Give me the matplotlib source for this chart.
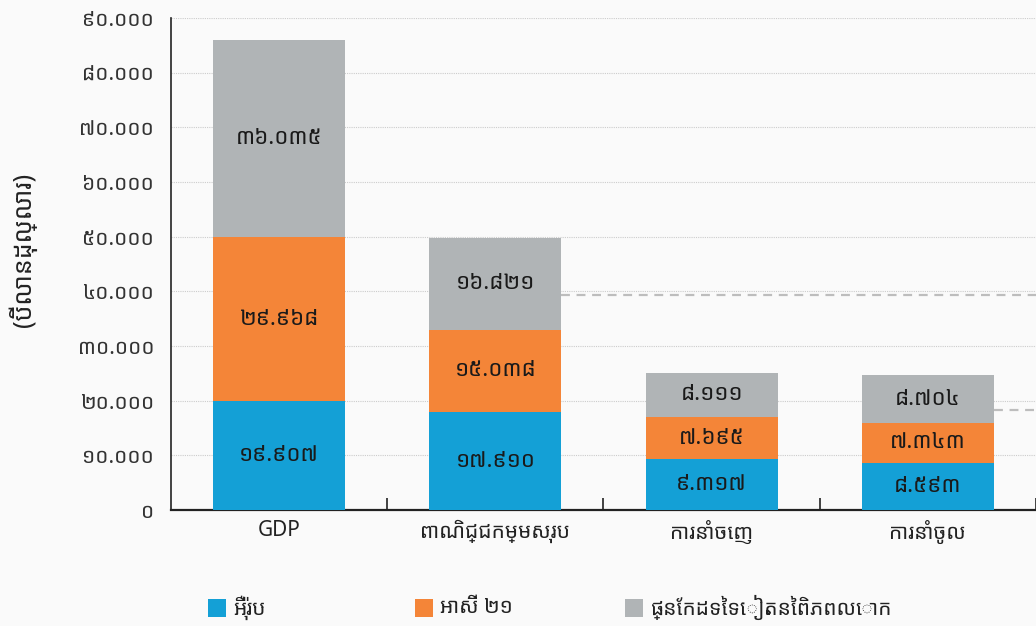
import matplotlib
matplotlib.use("Agg")
import matplotlib.pyplot as plt
from matplotlib.patches import Rectangle
from matplotlib.ticker import FixedLocator
import numpy as np

# Khmer-capable font first, fallbacks after
plt.rcParams['font.family'] = ['Noto Sans Khmer', 'Kantumruy Pro', 'DejaVu Sans']

categories = ["GDP", "ពាណិជ្ជកម្មសរុប", "ការនាំចេញ", "ការនាំចូល"]
series_names = ["អឺរ៉ុប", "អាស៊ី ២១", "ផ្នែកដទៃទៀតនៃពិភពលោក"]
europe = [19907, 17910, 9317, 8593]
asia21 = [29968, 15038, 7695, 7343]
rest_of_world = [36035, 16821, 8111, 8704]
y_ticks = [0, 10000, 20000, 30000, 40000, 50000, 60000, 70000, 80000, 90000]
y_label = "(ប៊ីលានដុល្លារ)"
# dashed reference marks on the right side
ref_levels = [39300, 18300]
ref_start_cat = [1, 3]

colors = ["#14a0d6", "#f48538", "#b0b4b6"]
bg = "#fafafa"

KHMER_DIGITS = "០១២៣៤៥៦៧៨៩"


def khmer_number(v):
    """Format an int with '.' thousands separator in Khmer digits."""
    s = f"{int(v):,}".replace(",", ".")
    return "".join(KHMER_DIGITS[int(c)] if c.isdigit() else c for c in s)


fig = plt.figure(figsize=(10.36, 6.26), dpi=100)
fig.patch.set_facecolor(bg)
ax = fig.add_axes([0.165, 0.1853, 0.835, 0.786])
ax.set_facecolor(bg)

x = np.arange(len(categories))
width = 0.61
bottom = np.zeros(len(categories))
for vals, col in zip([europe, asia21, rest_of_world], colors):
    vals = np.array(vals, dtype=float)
    ax.bar(x, vals, width, bottom=bottom, color=col, edgecolor="none", zorder=3)
    for xi, b, v in zip(x, bottom, vals):
        ax.text(xi, b + v / 2, khmer_number(v), ha="center", va="center",
                fontsize=16, color="#1a1a1a", zorder=4)
    bottom += vals

# dashed lines running to the right edge
for lvl, c in zip(ref_levels, ref_start_cat):
    ax.plot([c + width / 2, len(categories) - 0.5], [lvl, lvl], ls=(0, (4, 3)),
            color="#bdbdbd", lw=1.6, zorder=2, clip_on=False)

ax.set_xlim(-0.5, len(categories) - 0.5)
ax.set_ylim(0, 90000)

ax.yaxis.set_major_locator(FixedLocator(y_ticks))
ax.set_yticklabels([khmer_number(t) for t in y_ticks], fontsize=15, color="#333333")
ax.tick_params(axis="y", length=0, pad=12)
ax.grid(axis="y", ls=(0, (1, 1)), color="#cccccc", lw=0.8, zorder=0)

ax.set_xticks(x)
ax.set_xticklabels(categories, fontsize=15, color="#222222")
ax.tick_params(axis="x", which="major", length=0, pad=7)
ax.xaxis.set_minor_locator(FixedLocator(np.arange(len(categories)) + 0.5))
ax.tick_params(axis="x", which="minor", direction="in", length=9, width=1.2, color="#222222")

for side in ["top", "right"]:
    ax.spines[side].set_visible(False)
ax.spines["left"].set_color("#222222")
ax.spines["left"].set_linewidth(1.2)
ax.spines["bottom"].set_color("#222222")
ax.spines["bottom"].set_linewidth(1.6)

fig.text(0.022, 0.60, y_label, rotation=90, ha="center", va="center",
         fontsize=18, color="#222222")

# legend drawn by hand so the entries sit where the original has them
leg_x = [0.201, 0.401, 0.603]
leg_y = 0.029
sq_w, sq_h = 18 / 1036, 18 / 626
for lx, name, col in zip(leg_x, series_names, colors):
    fig.patches.append(Rectangle((lx, leg_y - sq_h / 2), sq_w, sq_h, transform=fig.transFigure,
                                 facecolor=col, edgecolor="none"))
    fig.text(lx + sq_w + 7 / 1036, leg_y, name, ha="left", va="center",
             fontsize=15, color="#222222")

fig.savefig("out.png", dpi=100, facecolor=bg)
